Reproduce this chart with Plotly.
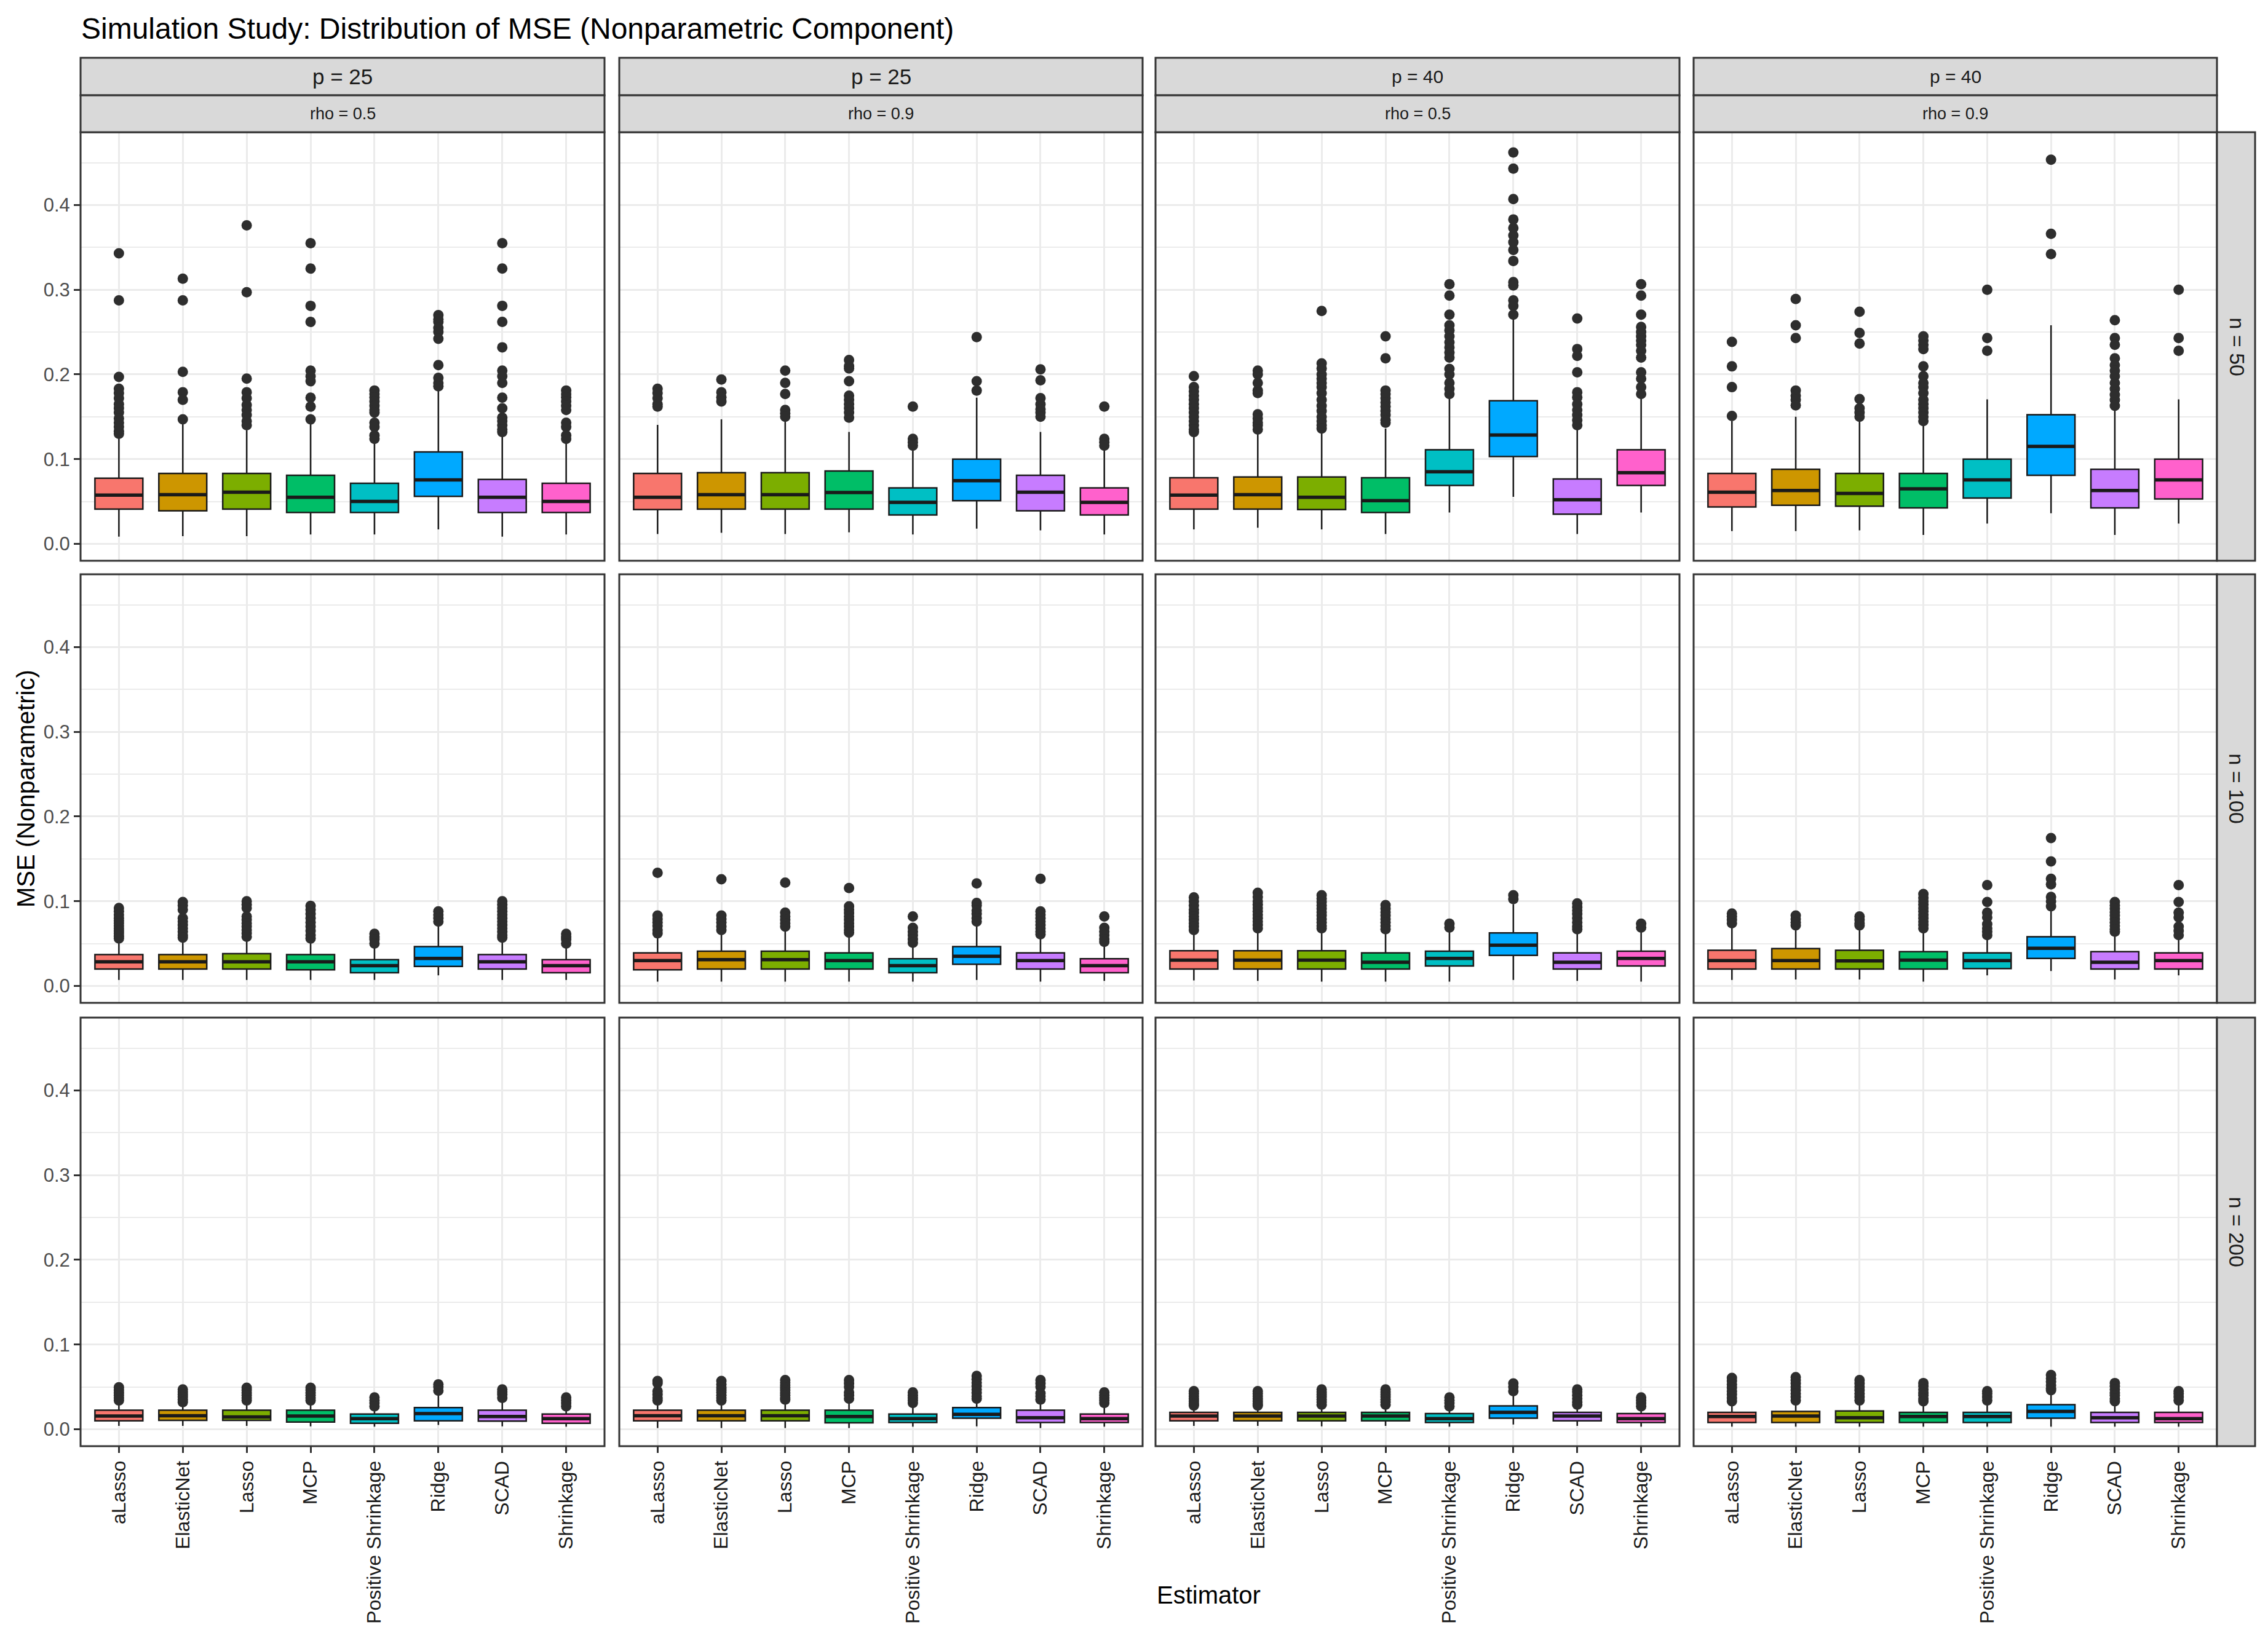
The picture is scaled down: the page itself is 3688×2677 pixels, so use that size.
import plotly.graph_objects as go

estimators = ['aLasso', 'ElasticNet', 'Lasso', 'MCP', 'Positive Shrinkage', 'Ridge', 'SCAD', 'Shrinkage']
fill_colors = ['#F8766D', '#CD9600', '#7CAE00', '#00BE67', '#00BFC4', '#00A9FF', '#C77CFF', '#FF61CC']
n_labels = ['n = 50', 'n = 100', 'n = 200']
p_labels = ['p = 25', 'p = 25', 'p = 40', 'p = 40']
rho_labels = ['rho = 0.5', 'rho = 0.9', 'rho = 0.5', 'rho = 0.9']
y_ticks = [0.0, 0.1, 0.2, 0.3, 0.4]
y_minor = [0.05, 0.15, 0.25, 0.35, 0.45]

# one row per panel: n=50 (4 panels), n=100 (4), n=200 (4); columns p25/rho.5, p25/rho.9, p40/rho.5, p40/rho.9
lower_whisker = [
    [0.0085, 0.009, 0.009, 0.011, 0.011, 0.017, 0.0085, 0.011],
    [0.0115, 0.013, 0.0115, 0.0135, 0.011, 0.018, 0.016, 0.011],
    [0.017, 0.019, 0.017, 0.0115, 0.037, 0.0555, 0.0115, 0.037],
    [0.015, 0.015, 0.016, 0.0105, 0.024, 0.036, 0.0105, 0.024],
    [0.007, 0.007, 0.007, 0.007, 0.007, 0.0125, 0.007, 0.007],
    [0.005, 0.005, 0.005, 0.005, 0.005, 0.007, 0.005, 0.006],
    [0.0065, 0.006, 0.005, 0.005, 0.005, 0.007, 0.006, 0.005],
    [0.007, 0.0075, 0.0075, 0.005, 0.0125, 0.0175, 0.0075, 0.0125],
    [0.004, 0.004, 0.004, 0.0035, 0.003, 0.005, 0.0035, 0.003],
    [0.0015, 0.0015, 0.0015, 0.0015, 0.003, 0.0035, 0.0015, 0.003],
    [0.004, 0.004, 0.0035, 0.004, 0.003, 0.0055, 0.004, 0.003],
    [0.003, 0.003, 0.003, 0.003, 0.003, 0.003, 0.003, 0.003],
]
q1 = [
    [0.041, 0.039, 0.041, 0.037, 0.037, 0.056, 0.037, 0.037],
    [0.0405, 0.041, 0.041, 0.041, 0.034, 0.051, 0.039, 0.034],
    [0.041, 0.041, 0.0405, 0.037, 0.069, 0.103, 0.035, 0.069],
    [0.0435, 0.0455, 0.0445, 0.0425, 0.054, 0.081, 0.0425, 0.053],
    [0.020, 0.020, 0.020, 0.019, 0.0155, 0.023, 0.020, 0.0155],
    [0.019, 0.020, 0.020, 0.020, 0.0155, 0.0255, 0.020, 0.0155],
    [0.020, 0.020, 0.020, 0.020, 0.0235, 0.036, 0.020, 0.0235],
    [0.020, 0.020, 0.020, 0.020, 0.0205, 0.0325, 0.020, 0.020],
    [0.010, 0.0105, 0.0105, 0.0085, 0.007, 0.010, 0.0095, 0.007],
    [0.010, 0.010, 0.010, 0.0075, 0.008, 0.013, 0.008, 0.008],
    [0.010, 0.010, 0.010, 0.010, 0.008, 0.013, 0.010, 0.008],
    [0.008, 0.008, 0.008, 0.008, 0.008, 0.013, 0.008, 0.008],
]
medians = [
    [0.0575, 0.058, 0.061, 0.055, 0.050, 0.0755, 0.055, 0.050],
    [0.055, 0.058, 0.058, 0.0605, 0.049, 0.0745, 0.061, 0.049],
    [0.0575, 0.058, 0.055, 0.051, 0.085, 0.1285, 0.052, 0.084],
    [0.061, 0.063, 0.0595, 0.065, 0.0755, 0.115, 0.063, 0.0755],
    [0.0285, 0.0285, 0.0285, 0.0285, 0.024, 0.0325, 0.0285, 0.024],
    [0.030, 0.031, 0.031, 0.030, 0.024, 0.035, 0.030, 0.024],
    [0.0305, 0.0305, 0.0305, 0.028, 0.0325, 0.048, 0.028, 0.0325],
    [0.030, 0.030, 0.0295, 0.0305, 0.030, 0.0445, 0.028, 0.030],
    [0.0155, 0.016, 0.0145, 0.0155, 0.0125, 0.0185, 0.015, 0.0125],
    [0.016, 0.016, 0.016, 0.015, 0.0125, 0.0175, 0.0135, 0.0125],
    [0.0155, 0.0155, 0.0155, 0.0155, 0.0125, 0.020, 0.0155, 0.0125],
    [0.015, 0.0155, 0.0135, 0.015, 0.015, 0.021, 0.0135, 0.0125],
]
q3 = [
    [0.0775, 0.083, 0.083, 0.081, 0.0715, 0.1085, 0.076, 0.0715],
    [0.083, 0.084, 0.084, 0.086, 0.066, 0.100, 0.081, 0.066],
    [0.078, 0.079, 0.079, 0.078, 0.111, 0.169, 0.0765, 0.111],
    [0.083, 0.088, 0.083, 0.083, 0.100, 0.1525, 0.088, 0.100],
    [0.037, 0.037, 0.038, 0.037, 0.031, 0.0465, 0.037, 0.031],
    [0.039, 0.041, 0.041, 0.039, 0.032, 0.0465, 0.039, 0.032],
    [0.0415, 0.0415, 0.0415, 0.039, 0.041, 0.0625, 0.039, 0.041],
    [0.042, 0.044, 0.042, 0.0405, 0.039, 0.058, 0.0405, 0.039],
    [0.0225, 0.0225, 0.0225, 0.0225, 0.018, 0.0255, 0.0225, 0.018],
    [0.0225, 0.0225, 0.0225, 0.0225, 0.018, 0.0255, 0.0225, 0.018],
    [0.020, 0.020, 0.020, 0.020, 0.0185, 0.0275, 0.020, 0.0185],
    [0.020, 0.021, 0.0215, 0.020, 0.020, 0.029, 0.020, 0.020],
]
upper_whisker = [
    [0.126, 0.145, 0.134, 0.143, 0.121, 0.181, 0.130, 0.119],
    [0.1405, 0.147, 0.145, 0.132, 0.111, 0.1725, 0.132, 0.111],
    [0.128, 0.132, 0.132, 0.136, 0.172, 0.266, 0.136, 0.172],
    [0.145, 0.150, 0.146, 0.142, 0.1705, 0.258, 0.1575, 0.1705],
    [0.054, 0.054, 0.0555, 0.054, 0.047, 0.072, 0.0555, 0.047],
    [0.060, 0.064, 0.0675, 0.0615, 0.049, 0.074, 0.059, 0.0505],
    [0.064, 0.066, 0.066, 0.065, 0.065, 0.0965, 0.065, 0.065],
    [0.071, 0.070, 0.070, 0.065, 0.058, 0.089, 0.0625, 0.058],
    [0.0315, 0.029, 0.0315, 0.0315, 0.0255, 0.041, 0.035, 0.0255],
    [0.032, 0.032, 0.033, 0.033, 0.028, 0.034, 0.0315, 0.028],
    [0.027, 0.027, 0.0275, 0.027, 0.0245, 0.040, 0.027, 0.0245],
    [0.029, 0.0305, 0.0305, 0.0315, 0.0305, 0.041, 0.0315, 0.0305],
]

# outlying points, one list per estimator
out_n50_p25_r05 = [
    [0.343, 0.2875, 0.197, 0.183, 0.178, 0.172, 0.165, 0.160, 0.155, 0.148, 0.143, 0.138, 0.133, 0.130],
    [0.313, 0.2875, 0.203, 0.179, 0.170, 0.147],
    [0.376, 0.297, 0.195, 0.179, 0.172, 0.164, 0.158, 0.152, 0.145, 0.140],
    [0.355, 0.325, 0.281, 0.262, 0.2045, 0.198, 0.192, 0.1725, 0.162, 0.147],
    [0.181, 0.177, 0.173, 0.168, 0.163, 0.158, 0.155, 0.143, 0.138, 0.128, 0.124],
    [0.270, 0.265, 0.262, 0.255, 0.250, 0.242, 0.211, 0.196, 0.190, 0.186],
    [0.355, 0.325, 0.281, 0.262, 0.232, 0.2045, 0.198, 0.190, 0.1725, 0.160, 0.149, 0.145, 0.140, 0.135, 0.132],
    [0.181, 0.177, 0.173, 0.168, 0.163, 0.158, 0.143, 0.138, 0.128, 0.124],
]
out_n50_p25_r09 = [
    [0.183, 0.178, 0.172, 0.165, 0.162],
    [0.194, 0.179, 0.173, 0.168],
    [0.2045, 0.190, 0.177, 0.158, 0.154, 0.150],
    [0.217, 0.210, 0.207, 0.192, 0.175, 0.170, 0.165, 0.160, 0.155, 0.149],
    [0.162, 0.124, 0.120, 0.116],
    [0.244, 0.192, 0.181],
    [0.206, 0.193, 0.172, 0.165, 0.159, 0.155, 0.150],
    [0.162, 0.124, 0.120, 0.116],
]
out_n50_p40_r05 = [
    [0.198, 0.185, 0.180, 0.175, 0.170, 0.165, 0.160, 0.155, 0.150, 0.145, 0.140, 0.135, 0.132],
    [0.2045, 0.200, 0.190, 0.181, 0.178, 0.153, 0.148, 0.143, 0.140, 0.135],
    [0.275, 0.213, 0.207, 0.200, 0.195, 0.190, 0.185, 0.178, 0.170, 0.163, 0.157, 0.150, 0.145, 0.140, 0.136],
    [0.245, 0.219, 0.181, 0.177, 0.172, 0.167, 0.162, 0.157, 0.152, 0.146, 0.143],
    [0.3065, 0.293, 0.2705, 0.258, 0.252, 0.245, 0.238, 0.232, 0.226, 0.220, 0.2065, 0.200, 0.190, 0.183, 0.177],
    [0.462, 0.443, 0.407, 0.383, 0.373, 0.364, 0.356, 0.347, 0.334, 0.309, 0.305, 0.2875, 0.281, 0.2705],
    [0.266, 0.230, 0.222, 0.2025, 0.179, 0.173, 0.165, 0.158, 0.152, 0.146, 0.140],
    [0.3065, 0.293, 0.2705, 0.256, 0.250, 0.245, 0.240, 0.235, 0.228, 0.220, 0.2025, 0.195, 0.185, 0.177],
]
out_n50_p40_r09 = [
    [0.2385, 0.2095, 0.185, 0.151],
    [0.289, 0.258, 0.243, 0.181, 0.175, 0.170, 0.1635],
    [0.274, 0.249, 0.2365, 0.171, 0.160, 0.155, 0.150],
    [0.245, 0.240, 0.235, 0.230, 0.2095, 0.198, 0.190, 0.185, 0.178, 0.170, 0.165, 0.160, 0.155, 0.150, 0.145],
    [0.300, 0.243, 0.228],
    [0.4535, 0.366, 0.342],
    [0.264, 0.243, 0.235, 0.219, 0.211, 0.2045, 0.198, 0.190, 0.183, 0.176, 0.170, 0.163],
    [0.300, 0.243, 0.228],
]
out_n100_p25_r05 = [
    [0.092, 0.088, 0.084, 0.080, 0.077, 0.074, 0.071, 0.068, 0.065, 0.062, 0.059, 0.056],
    [0.099, 0.095, 0.090, 0.080, 0.076, 0.072, 0.068, 0.064, 0.060, 0.057],
    [0.100, 0.096, 0.092, 0.082, 0.078, 0.074, 0.070, 0.066, 0.062, 0.058],
    [0.0945, 0.090, 0.085, 0.080, 0.075, 0.070, 0.065, 0.060, 0.056],
    [0.0615, 0.058, 0.055, 0.050],
    [0.088, 0.084, 0.080, 0.076],
    [0.100, 0.096, 0.092, 0.088, 0.084, 0.080, 0.076, 0.072, 0.068, 0.064, 0.060, 0.057],
    [0.0615, 0.058, 0.055, 0.050],
]
out_n100_p25_r09 = [
    [0.1335, 0.083, 0.079, 0.075, 0.071, 0.066, 0.062],
    [0.126, 0.083, 0.079, 0.075, 0.070, 0.066],
    [0.122, 0.0865, 0.082, 0.078, 0.074, 0.070],
    [0.1155, 0.094, 0.090, 0.086, 0.082, 0.078, 0.074, 0.070, 0.066, 0.063],
    [0.082, 0.0685, 0.064, 0.060, 0.055, 0.051],
    [0.121, 0.098, 0.095, 0.089, 0.085, 0.080, 0.076],
    [0.1265, 0.088, 0.084, 0.080, 0.076, 0.072, 0.068, 0.064, 0.061],
    [0.082, 0.0685, 0.064, 0.060, 0.055, 0.052],
]
out_n100_p40_r05 = [
    [0.1045, 0.100, 0.095, 0.090, 0.086, 0.082, 0.078, 0.074, 0.070, 0.066],
    [0.110, 0.105, 0.100, 0.096, 0.092, 0.088, 0.084, 0.080, 0.076, 0.072, 0.068],
    [0.107, 0.103, 0.099, 0.095, 0.091, 0.087, 0.083, 0.079, 0.075, 0.071, 0.068],
    [0.0955, 0.091, 0.087, 0.083, 0.079, 0.075, 0.071, 0.067],
    [0.0735, 0.069],
    [0.107, 0.1025],
    [0.0975, 0.093, 0.089, 0.085, 0.080, 0.075, 0.070, 0.067],
    [0.0735, 0.069],
]
out_n100_p40_r09 = [
    [0.0855, 0.082, 0.078, 0.074],
    [0.083, 0.079, 0.075, 0.0715],
    [0.082, 0.078, 0.074, 0.0715],
    [0.1085, 0.104, 0.100, 0.096, 0.092, 0.088, 0.084, 0.080, 0.076, 0.072, 0.068],
    [0.119, 0.099, 0.0865, 0.081, 0.073, 0.068, 0.064, 0.060],
    [0.1745, 0.147, 0.1265, 0.120, 0.105, 0.100, 0.094],
    [0.099, 0.095, 0.091, 0.087, 0.083, 0.079, 0.075, 0.071, 0.067, 0.064],
    [0.119, 0.099, 0.0865, 0.081, 0.070, 0.065, 0.060],
]
out_n200_p25_r05 = [
    [0.0495, 0.046, 0.043, 0.040, 0.037, 0.034],
    [0.047, 0.044, 0.041, 0.038, 0.035, 0.032],
    [0.049, 0.046, 0.043, 0.040, 0.037, 0.034],
    [0.049, 0.046, 0.043, 0.040, 0.037, 0.034],
    [0.0375, 0.034, 0.031, 0.027],
    [0.053, 0.050, 0.0455],
    [0.047, 0.044, 0.041, 0.037],
    [0.0375, 0.034, 0.031, 0.027],
]
out_n200_p25_r09 = [
    [0.057, 0.0545, 0.045, 0.041, 0.037, 0.034],
    [0.057, 0.053, 0.049, 0.046, 0.0435, 0.040, 0.037, 0.034],
    [0.058, 0.055, 0.052, 0.049, 0.046, 0.043, 0.040, 0.037, 0.035],
    [0.058, 0.054, 0.050, 0.0435, 0.040, 0.036],
    [0.0435, 0.040, 0.037, 0.034, 0.031],
    [0.063, 0.059, 0.055, 0.051, 0.047, 0.043, 0.039, 0.036],
    [0.058, 0.054, 0.050, 0.0425, 0.039, 0.035],
    [0.0435, 0.040, 0.037, 0.034, 0.031],
]
out_n200_p40_r05 = [
    [0.045, 0.042, 0.039, 0.036, 0.033, 0.030, 0.028],
    [0.045, 0.042, 0.039, 0.036, 0.033, 0.030, 0.028],
    [0.047, 0.044, 0.041, 0.038, 0.035, 0.032, 0.029],
    [0.047, 0.044, 0.041, 0.038, 0.035, 0.032, 0.029],
    [0.0375, 0.034, 0.031, 0.027],
    [0.054, 0.050, 0.045],
    [0.047, 0.044, 0.040, 0.036, 0.032, 0.029],
    [0.0375, 0.034, 0.031, 0.027],
]
out_n200_p40_r09 = [
    [0.0605, 0.057, 0.053, 0.049, 0.045, 0.041, 0.037, 0.033],
    [0.0615, 0.058, 0.054, 0.050, 0.046, 0.042, 0.038, 0.034],
    [0.058, 0.054, 0.050, 0.046, 0.042, 0.038, 0.034],
    [0.0545, 0.051, 0.047, 0.043, 0.040, 0.036, 0.033],
    [0.045, 0.042, 0.038, 0.034],
    [0.064, 0.060, 0.056, 0.052, 0.048, 0.046],
    [0.0545, 0.051, 0.047, 0.043, 0.040, 0.036, 0.033],
    [0.045, 0.042, 0.038, 0.034],
]
outliers = [out_n50_p25_r05, out_n50_p25_r09, out_n50_p40_r05, out_n50_p40_r09,
            out_n100_p25_r05, out_n100_p25_r09, out_n100_p40_r05, out_n100_p40_r09,
            out_n200_p25_r05, out_n200_p25_r09, out_n200_p40_r05, out_n200_p40_r09]

# page geometry (pixels); the page body adds an 8px margin
W, H, OFF = 3680, 2669, 8
cols_px = [(131, 983), (1007, 1858), (1879, 2731), (2754, 3605)]
rows_px = [(215, 912), (934, 1631), (1655, 2352)]
FONT = 'Liberation Sans, Arial, sans-serif'
BOX_W = 0.75


def fx(x):
    return (x - OFF) / W


def fy(y):
    return 1 - (y - OFF) / H


fig = go.Figure()
shapes = []
annotations = []
layout_axes = {}

for r in range(3):
    for c in range(4):
        k = r * 4 + c
        sfx = '' if k == 0 else str(k + 1)
        xa, ya = 'x' + sfx, 'y' + sfx

        for i, est in enumerate(estimators):
            fig.add_trace(go.Box(
                x=[i], q1=[q1[k][i]], median=[medians[k][i]], q3=[q3[k][i]],
                lowerfence=[lower_whisker[k][i]], upperfence=[upper_whisker[k][i]],
                width=BOX_W, whiskerwidth=0, boxpoints=False,
                fillcolor=fill_colors[i], line=dict(color='#1A1A1A', width=2.5),
                xaxis=xa, yaxis=ya, showlegend=False, hoverinfo='skip'))

        # thicker median bars, like ggplot
        mx, my = [], []
        for i in range(len(estimators)):
            mx += [i - BOX_W / 2, i + BOX_W / 2, None]
            my += [medians[k][i], medians[k][i], None]
        fig.add_trace(go.Scatter(x=mx, y=my, mode='lines', line=dict(color='#1A1A1A', width=5.5),
                                 xaxis=xa, yaxis=ya, showlegend=False, hoverinfo='skip'))

        ox, oy = [], []
        for i in range(len(estimators)):
            ox += [i] * len(outliers[k][i])
            oy += outliers[k][i]
        fig.add_trace(go.Scatter(x=ox, y=oy, mode='markers',
                                 marker=dict(color='#2E2E2E', size=17, line=dict(width=0)),
                                 xaxis=xa, yaxis=ya, showlegend=False, hoverinfo='skip'))

        x0, x1 = cols_px[c]
        y0, y1 = rows_px[r]
        bottom = r == 2
        left = c == 0
        layout_axes['xaxis' + sfx] = dict(
            domain=[fx(x0), fx(x1)], anchor=ya, range=[-0.6, 7.6],
            tickmode='array', tickvals=list(range(len(estimators))), ticktext=estimators,
            showticklabels=bottom, ticks='outside' if bottom else '', ticklen=10, tickwidth=3,
            tickcolor='#333333', tickangle=-90, tickfont=dict(size=32, color='#1A1A1A', family=FONT),
            showgrid=True, gridcolor='#EBEBEB', gridwidth=3, zeroline=False, showline=False)
        layout_axes['yaxis' + sfx] = dict(
            domain=[fy(y1), fy(y0)], anchor=xa, range=[-0.02, 0.486],
            tickmode='array', tickvals=y_ticks, ticktext=['%.1f' % v for v in y_ticks],
            showticklabels=left, ticks='outside' if left else '', ticklen=10, tickwidth=3,
            tickcolor='#333333', tickfont=dict(size=31, color='#4D4D4D', family=FONT),
            showgrid=True, gridcolor='#EBEBEB', gridwidth=3, zeroline=False, showline=False,
            minor=dict(tickmode='array', tickvals=y_minor, showgrid=True,
                       gridcolor='#EBEBEB', gridwidth=1.5, ticks=''))

        # panel border
        shapes.append(dict(type='rect', xref='paper', yref='paper', layer='above',
                           x0=fx(x0), x1=fx(x1), y0=fy(y1), y1=fy(y0),
                           line=dict(color='#333333', width=3), fillcolor='rgba(0,0,0,0)'))

# column strips (p and rho)
for c in range(4):
    x0, x1 = cols_px[c]
    for (s0, s1), label, size in [((94, 155), p_labels[c], 35 if c < 2 else 30),
                                  ((155, 215), rho_labels[c], 27)]:
        shapes.append(dict(type='rect', xref='paper', yref='paper', layer='above',
                           x0=fx(x0), x1=fx(x1), y0=fy(s1), y1=fy(s0),
                           line=dict(color='#333333', width=3), fillcolor='#D9D9D9'))
        annotations.append(dict(text=label, xref='paper', yref='paper', showarrow=False,
                                x=fx((x0 + x1) / 2), y=fy((s0 + s1) / 2),
                                xanchor='center', yanchor='middle',
                                font=dict(size=size, color='#1A1A1A', family=FONT)))

# row strips (n)
for r in range(3):
    y0, y1 = rows_px[r]
    shapes.append(dict(type='rect', xref='paper', yref='paper', layer='above',
                       x0=fx(3605), x1=fx(3667), y0=fy(y1), y1=fy(y0),
                       line=dict(color='#333333', width=3), fillcolor='#D9D9D9'))
    annotations.append(dict(text=n_labels[r], xref='paper', yref='paper', showarrow=False,
                            x=fx(3637), y=fy((y0 + y1) / 2), textangle=90,
                            xanchor='center', yanchor='middle',
                            font=dict(size=34, color='#1A1A1A', family=FONT)))

annotations.append(dict(text='Simulation Study: Distribution of MSE (Nonparametric Component)',
                        xref='paper', yref='paper', showarrow=False, x=fx(130), y=fy(46),
                        xanchor='left', yanchor='middle', font=dict(size=48, color='#000000', family=FONT)))
annotations.append(dict(text='MSE (Nonparametric)', xref='paper', yref='paper', showarrow=False,
                        x=fx(42), y=fy(1283), textangle=-90, xanchor='center', yanchor='middle',
                        font=dict(size=40, color='#000000', family=FONT)))
annotations.append(dict(text='Estimator', xref='paper', yref='paper', showarrow=False,
                        x=fx(1965), y=fy(2594), xanchor='center', yanchor='middle',
                        font=dict(size=40, color='#000000', family=FONT)))

fig.update_layout(
    width=W, height=H, autosize=False,
    margin=dict(l=0, r=0, t=0, b=0, pad=0),
    paper_bgcolor='white', plot_bgcolor='white',
    font=dict(family=FONT),
    showlegend=False,
    shapes=shapes, annotations=annotations,
    **layout_axes)

fig.write_html("out.html")
